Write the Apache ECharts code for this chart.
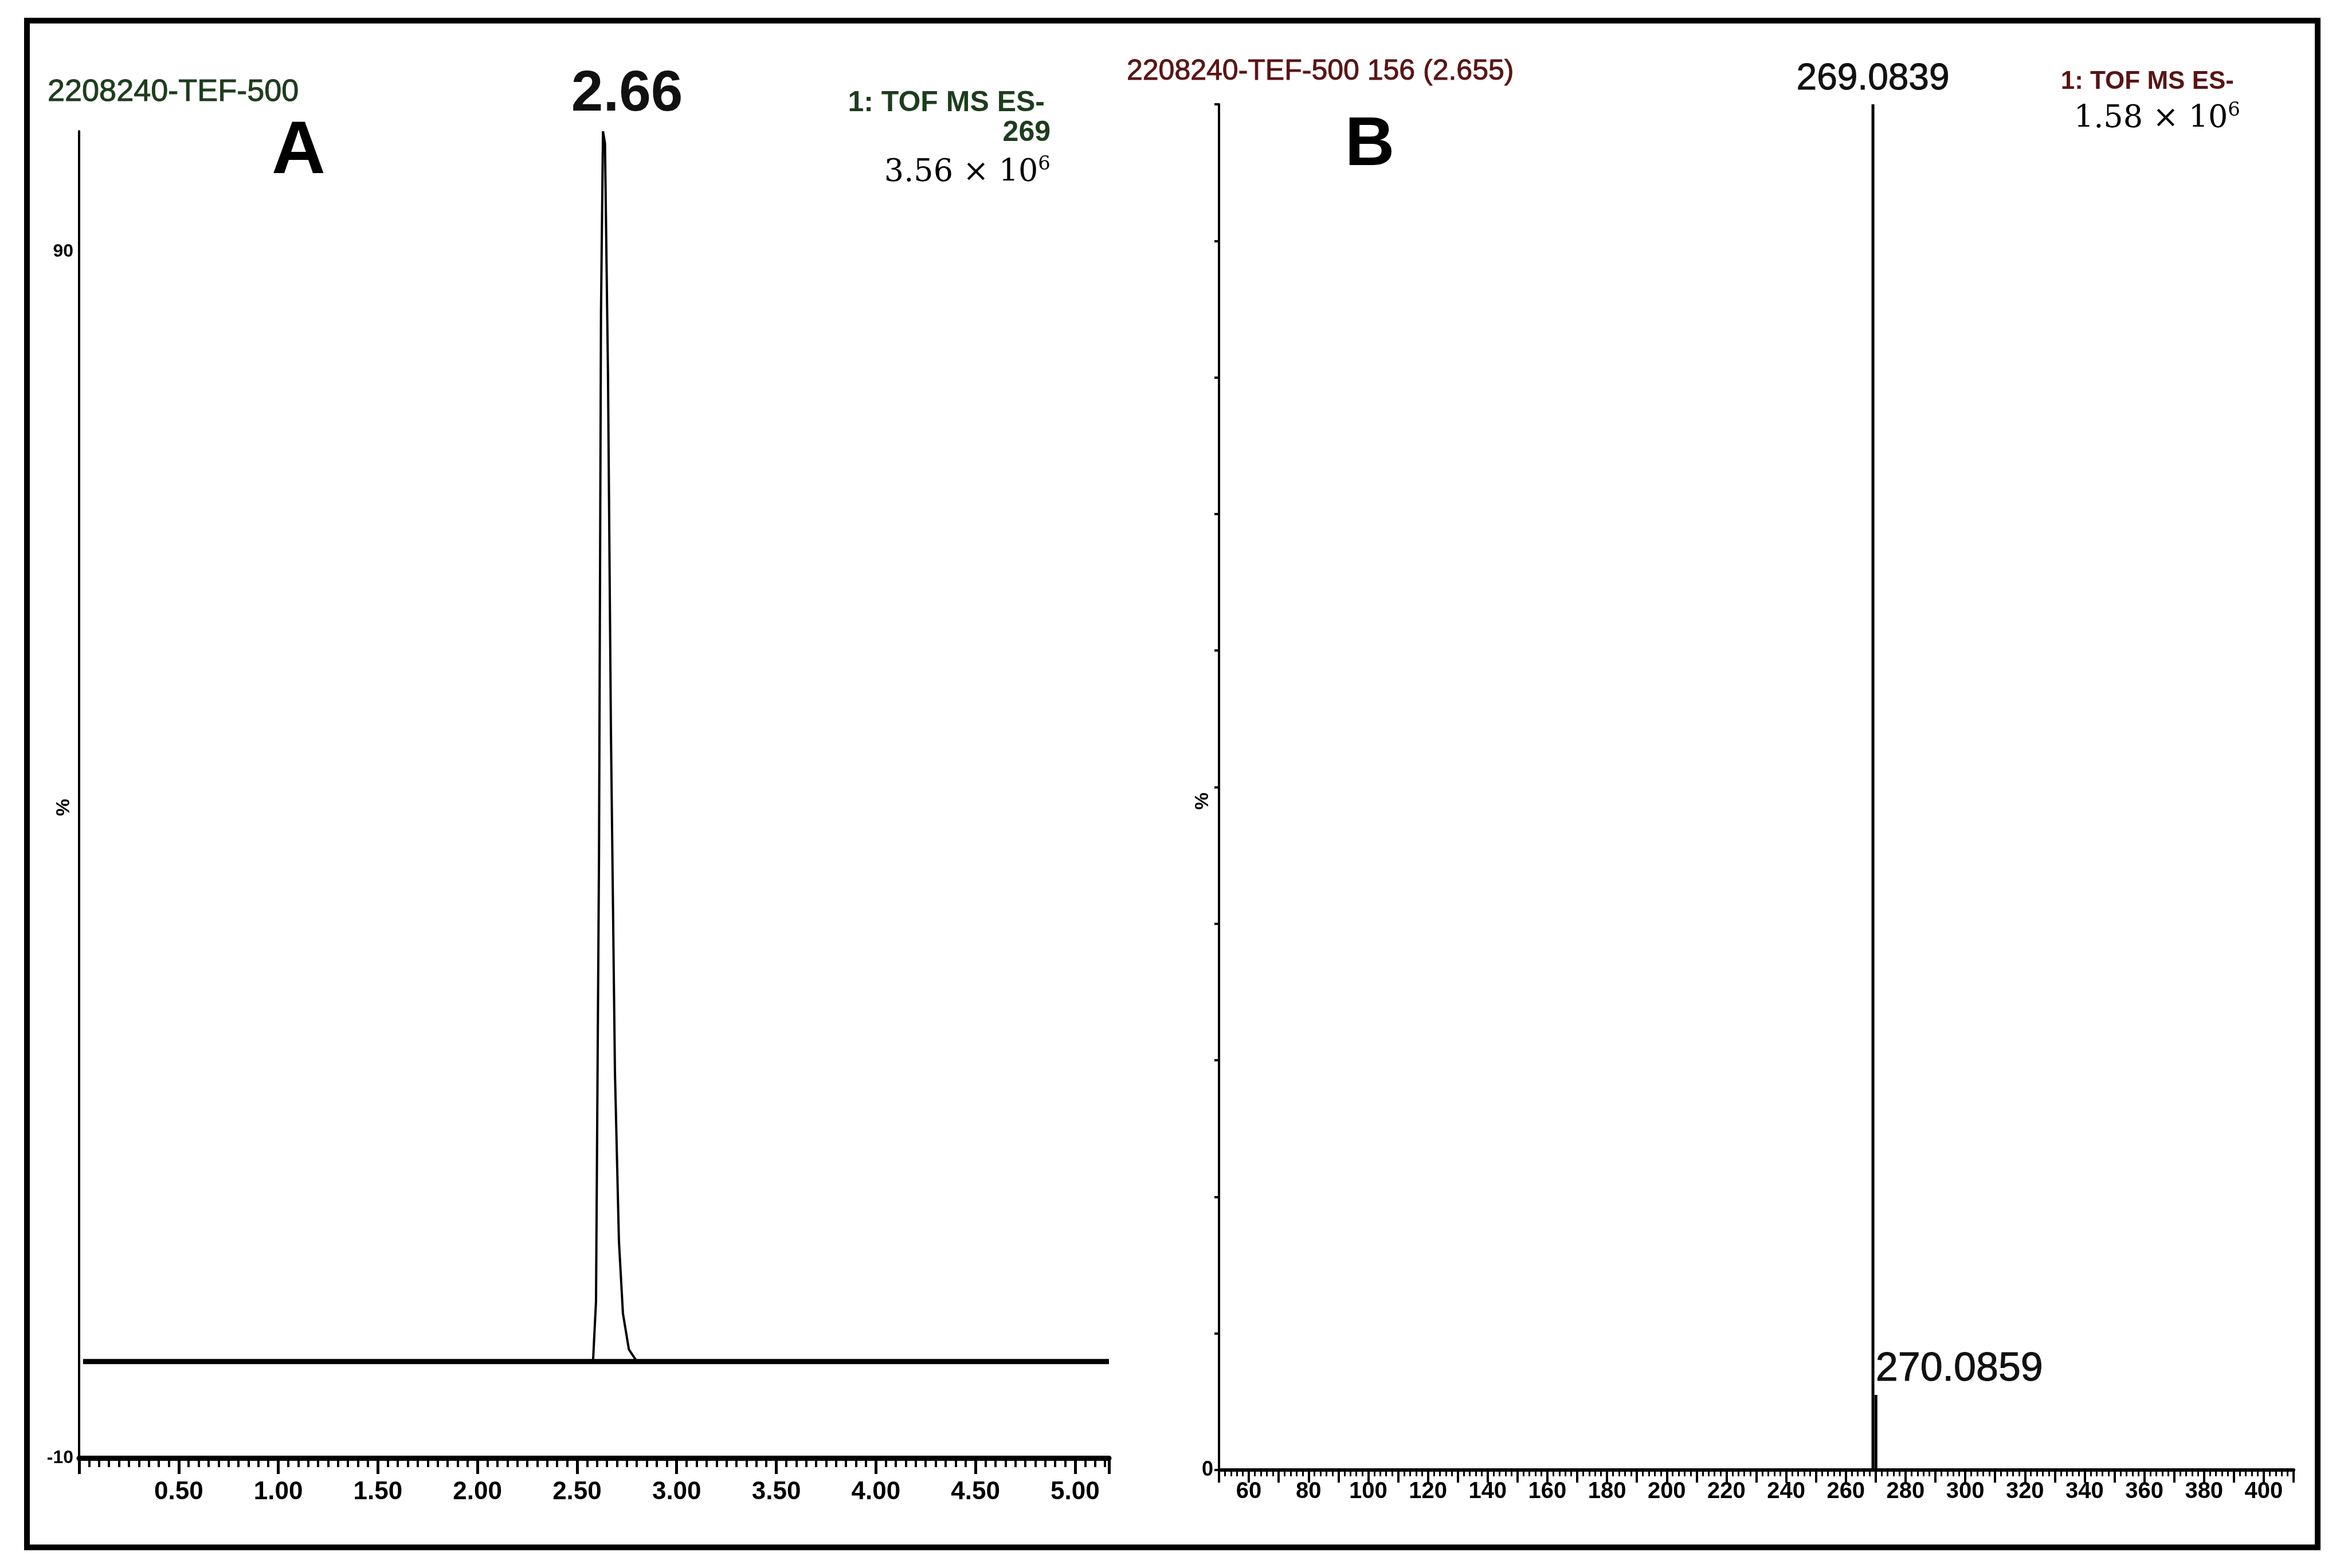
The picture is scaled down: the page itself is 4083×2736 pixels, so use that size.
<!DOCTYPE html>
<html><head><meta charset="utf-8">
<script src="https://cdn.jsdelivr.net/npm/echarts@6/dist/echarts.min.js"></script>
<style>html,body{margin:0;padding:0;background:#fff}#c{width:4083px;height:2736px}</style>
</head><body><div id="c"></div>
<script>
// Panel A: chromatogram (time, %)
const chromTime = [0.02, 2.58, 2.595, 2.61, 2.62, 2.63, 2.64, 2.655, 2.67, 2.69, 2.71, 2.73, 2.76, 2.80, 5.17];
const chromPct  = [-2, -2, 3, 40, 85, 100, 99, 80, 50, 22, 8, 2, -1, -2, -2];
const peakLabelA = '2.66';
// Panel B: mass spectrum (m/z, %)
const mzValues = [269.0839, 270.0859];
const mzPct    = [100, 5.5];
const mzLabels = ['269.0839', '270.0859'];

const tickFont = {fontFamily:'Liberation Sans Narrow, Liberation Sans, Arial', fontWeight:'bold', fontSize:44, color:'#000'};
const chart = echarts.init(document.getElementById('c'));
const lineA = chromTime.map((t,i)=>{
  const p=[t,chromPct[i]];
  return chromPct[i]===100 ? {value:p,label:{show:true,formatter:peakLabelA,position:'top',distance:14,offset:[42,0],fontSize:100,fontWeight:'bold',fontFamily:'Liberation Sans, Arial',color:'#111'}} : p;
});
const barsB = mzValues.map((m,i)=>({value:[m,mzPct[i]],label:{show:true,formatter:mzLabels[i],
  position: i===0?'top':'insideBottomLeft', distance:i===0?12:0, offset:i===0?[0,0]:[2,-140],
  fontSize:i===0?64:70, fontWeight:500, fontFamily:'Liberation Sans, Arial', color:'#111',
  textBorderColor:'#111', textBorderWidth:1}}));

chart.setOption({
  animation:false,
  backgroundColor:'#fff',
  grid:[
    {left:138, top:229, width:1797, height:2315},
    {left:2127, top:182, width:1875, height:2383}
  ],
  xAxis:[
    {gridIndex:0,type:'value',min:0,max:5.17,interval:0.5,
     axisLine:{show:true,onZero:false,lineStyle:{color:'#000',width:9}},
     axisTick:{show:true,length:28,lineStyle:{color:'#000',width:5}},
     minorTick:{show:true,splitNumber:10,length:16,lineStyle:{color:'#000',width:4}},
     splitLine:{show:false},
     axisLabel:{...tickFont,margin:38,formatter:v=>v===0?'':v.toFixed(2)}},
    {gridIndex:1,type:'value',min:50,max:410,interval:10,
     axisLine:{show:true,onZero:false,lineStyle:{color:'#000',width:6}},
     axisTick:{show:true,length:22,lineStyle:{color:'#000',width:4}},
     minorTick:{show:true,splitNumber:5,length:11,lineStyle:{color:'#000',width:3}},
     splitLine:{show:false},
     axisLabel:{...tickFont,fontSize:40,margin:18,formatter:v=>(v%20===0?String(v):'')}}
  ],
  yAxis:[
    {gridIndex:0,type:'value',min:-10,max:100,interval:10,
     axisLine:{show:true,lineStyle:{color:'#000',width:4}},
     axisTick:{show:false},splitLine:{show:false},
     axisLabel:{...tickFont,fontSize:32,margin:10,formatter:v=>(v===90||v===-10)?String(v):''}},
    {gridIndex:1,type:'value',min:0,max:100,interval:10,
     axisLine:{show:true,lineStyle:{color:'#000',width:4}},
     axisTick:{show:true,inside:false,length:8,lineStyle:{color:'#000',width:4}},
     splitLine:{show:false},
     axisLabel:{...tickFont,fontSize:36,margin:10,formatter:v=>v===0?'0':''}}
  ],
  series:[
    {type:'line',xAxisIndex:0,yAxisIndex:0,data:lineA,symbol:'circle',symbolSize:0,showSymbol:true,
     lineStyle:{color:'#000',width:4}},
    {type:'line',xAxisIndex:0,yAxisIndex:0,data:[[0.02,-2],[5.17,-2]],symbol:'none',
     lineStyle:{color:'#000',width:9},z:1},
    {type:'bar',xAxisIndex:1,yAxisIndex:1,data:barsB,barWidth:5,itemStyle:{color:'#000'}}
  ],
  graphic:[
    {type:'rect',shape:{x:47,y:36,width:3997,height:2664},style:{fill:'none',stroke:'#000',lineWidth:10}},
    {type:'text',x:112,y:1409,rotation:Math.PI/2,style:{text:'%',font:'bold 34px Liberation Sans, Arial',fill:'#000',align:'center',verticalAlign:'middle'}},
    {type:'text',x:2099,y:1398,rotation:Math.PI/2,style:{text:'%',font:'bold 34px Liberation Sans, Arial',fill:'#000',align:'center',verticalAlign:'middle'}},
    {type:'text',x:83,y:161,style:{text:'2208240-TEF-500',font:'54px Liberation Sans, Arial',fill:'#1d3d1d',stroke:'#1d3d1d',lineWidth:1,verticalAlign:'middle'}},
    {type:'text',x:521,y:266,style:{text:'A',font:'bold 130px Liberation Sans, Arial',fill:'#000',align:'center',verticalAlign:'middle'}},
    {type:'text',x:1823,y:180,style:{text:'1: TOF MS ES-',font:'bold 50px Liberation Sans, Arial',fill:'#1d3d1d',align:'right',verticalAlign:'middle'}},
    {type:'text',x:1833,y:232,style:{text:'269',font:'bold 50px Liberation Sans, Arial',fill:'#1d3d1d',align:'right',verticalAlign:'middle'}},
    {type:'text',x:1833,y:302,style:{text:'{a|3.56 × 10}{s|6}',align:'right',verticalAlign:'middle',
      rich:{a:{fontFamily:'DejaVu Serif, Liberation Serif',fontSize:54,color:'#000'},s:{fontFamily:'DejaVu Serif',fontSize:34,color:'#000',verticalAlign:'top',padding:[0,0,30,0]}}}},
    {type:'text',x:1966,y:125,style:{text:'2208240-TEF-500 156 (2.655)',font:'50px Liberation Sans, Arial',fill:'#5a1414',stroke:'#5a1414',lineWidth:1,verticalAlign:'middle'}},
    {type:'text',x:2390,y:255,style:{text:'B',font:'bold 120px Liberation Sans, Arial',fill:'#000',align:'center',verticalAlign:'middle'}},
    {type:'text',x:3898,y:143,style:{text:'1: TOF MS ES-',font:'bold 44px Liberation Sans, Arial',fill:'#5a1414',align:'right',verticalAlign:'middle'}},
    {type:'text',x:3909,y:208,style:{text:'{a|1.58 × 10}{s|6}',align:'right',verticalAlign:'middle',
      rich:{a:{fontFamily:'DejaVu Serif, Liberation Serif',fontSize:54,color:'#000'},s:{fontFamily:'DejaVu Serif',fontSize:34,color:'#000',verticalAlign:'top',padding:[0,0,30,0]}}}}
  ]
});
</script></body></html>
